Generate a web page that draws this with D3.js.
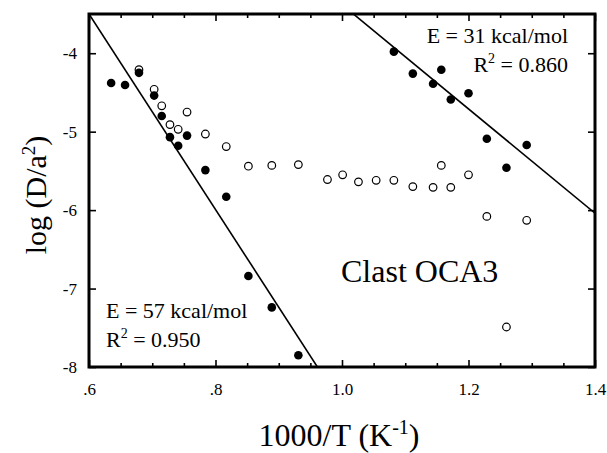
<!DOCTYPE html>
<html>
<head>
<meta charset="utf-8">
<script src="https://cdn.jsdelivr.net/npm/d3@7"></script>
<style>
  html, body { margin: 0; padding: 0; background: #fff; }
  svg { display: block; }
  text { font-family: "Liberation Serif", "Times New Roman", Times, serif; fill: #000; }
</style>
</head>
<body>
<svg id="chart" width="607" height="453"></svg>
<script>
// ---- data ----
const filledX = [0.635, 0.657, 0.679, 0.703, 0.715, 0.728, 0.741, 0.755, 0.784, 0.817, 0.852, 0.889, 0.931,
                 1.082, 1.112, 1.144, 1.157, 1.172, 1.200, 1.229, 1.260, 1.292];
const filledY = [-4.38, -4.405, -4.25, -4.54, -4.80, -5.07, -5.18, -5.05, -5.49, -5.83, -6.84, -7.24, -7.85,
                 -3.98, -4.26, -4.39, -4.21, -4.59, -4.51, -5.09, -5.46, -5.17];
const openX = [0.679, 0.703, 0.715, 0.728, 0.741, 0.755, 0.784, 0.817, 0.852, 0.889, 0.931, 0.977, 1.001,
               1.026, 1.054, 1.082, 1.112, 1.144, 1.157, 1.172, 1.200, 1.229, 1.260, 1.292];
const openY = [-4.21, -4.46, -4.67, -4.91, -4.97, -4.75, -5.03, -5.19, -5.44, -5.43, -5.42, -5.61, -5.55,
               -5.64, -5.62, -5.62, -5.70, -5.71, -5.43, -5.71, -5.55, -6.08, -7.49, -6.13];
// Arrhenius fits: log(D/a^2) = intercept + slope * (1000/T)
const fitSlopes = [-12.46, -6.65];
const fitIntercepts = [3.976, 3.27];
const fitFrom = [0.6, 1.0];
const fitTo = [0.97, 1.4];
const xTickValues = [0.6, 0.8, 1.0, 1.2, 1.4];
const xTickLabels = [".6", ".8", "1.0", "1.2", "1.4"];
const yTickValues = [-8, -7, -6, -5, -4];
const yTickLabels = ["-8", "-7", "-6", "-5", "-4"];

// ---- layout ----
const L = 89, R = 595, T = 14, B = 367;
const FONT = '"Liberation Serif", "Times New Roman", Times, serif';
const svg = d3.select("#chart");
const x = d3.scaleLinear().domain([0.6, 1.4]).range([L, R]);
const y = d3.scaleLinear().domain([-8, -3.5]).range([B, T]);

svg.append("defs").append("clipPath").attr("id", "plotclip")
  .append("rect").attr("x", L).attr("y", T).attr("width", R - L).attr("height", B - T);

const minorX = d3.range(0, 17).map(i => +(0.6 + i * 0.05).toFixed(2)).filter(v => !xTickValues.some(t => Math.abs(t - v) < 1e-6));

function styleAxis(g) {
  g.attr("font-family", FONT);
  g.select(".domain").remove();
  g.selectAll(".tick line").attr("stroke", "#000").attr("stroke-width", 1.6);
  g.selectAll("text").style("font-size", "17px").style("font-family", FONT);
}

// bottom major
svg.append("g").attr("transform", `translate(0,${B})`)
  .call(d3.axisBottom(x).tickValues(xTickValues).tickSize(-7).tickPadding(16)
    .tickFormat((d, i) => xTickLabels[i]))
  .call(styleAxis);
// bottom minor
svg.append("g").attr("transform", `translate(0,${B})`)
  .call(d3.axisBottom(x).tickValues(minorX).tickSize(-4).tickFormat(""))
  .call(styleAxis);
// top major/minor
svg.append("g").attr("transform", `translate(0,${T})`)
  .call(d3.axisTop(x).tickValues(xTickValues).tickSize(-7).tickFormat(""))
  .call(styleAxis);
svg.append("g").attr("transform", `translate(0,${T})`)
  .call(d3.axisTop(x).tickValues(minorX).tickSize(-4).tickFormat(""))
  .call(styleAxis);
// left
svg.append("g").attr("transform", `translate(${L},0)`)
  .call(d3.axisLeft(y).tickValues(yTickValues).tickSize(-7).tickPadding(12)
    .tickFormat((d, i) => yTickLabels[i]))
  .call(styleAxis);
// right
svg.append("g").attr("transform", `translate(${R},0)`)
  .call(d3.axisRight(y).tickValues(yTickValues).tickSize(-7).tickFormat(""))
  .call(styleAxis);

// frame
svg.append("rect").attr("x", L).attr("y", T).attr("width", R - L).attr("height", B - T)
  .attr("fill", "none").attr("stroke", "#000").attr("stroke-width", 3);

// fit lines
const plot = svg.append("g").attr("clip-path", "url(#plotclip)");
fitSlopes.forEach((s, i) => {
  const xs = [fitFrom[i], fitTo[i]];
  plot.append("line")
    .attr("x1", x(xs[0])).attr("y1", y(fitIntercepts[i] + s * xs[0]))
    .attr("x2", x(xs[1])).attr("y2", y(fitIntercepts[i] + s * xs[1]))
    .attr("stroke", "#000").attr("stroke-width", 1.6);
});

// open circles
svg.append("g").selectAll("circle").data(openX).join("circle")
  .attr("cx", d => x(d)).attr("cy", (d, i) => y(openY[i])).attr("r", 3.8)
  .attr("fill", "#fff").attr("stroke", "#000").attr("stroke-width", 1.2);
// filled circles
svg.append("g").selectAll("circle").data(filledX).join("circle")
  .attr("cx", d => x(d)).attr("cy", (d, i) => y(filledY[i])).attr("r", 4.3)
  .attr("fill", "#000");

// annotations
const ann = svg.append("g").style("font-size", "22px");
ann.append("text").attr("x", 568).attr("y", 43).attr("text-anchor", "end").text("E = 31 kcal/mol");
const r1 = ann.append("text").attr("x", 568).attr("y", 72).attr("text-anchor", "end");
r1.append("tspan").text("R");
r1.append("tspan").attr("dy", -9).style("font-size", "14px").text("2");
r1.append("tspan").attr("dy", 9).text(" = 0.860");

ann.append("text").attr("x", 106).attr("y", 318).text("E = 57 kcal/mol");
const r2 = ann.append("text").attr("x", 106).attr("y", 347);
r2.append("tspan").text("R");
r2.append("tspan").attr("dy", -9).style("font-size", "14px").text("2");
r2.append("tspan").attr("dy", 9).text(" = 0.950");

svg.append("text").attr("x", 341).attr("y", 282).style("font-size", "32px").text("Clast OCA3");

// axis titles
const xt = svg.append("text").attr("x", 339).attr("y", 446).attr("text-anchor", "middle")
  .style("font-size", "32px");
xt.append("tspan").text("1000/T (K");
xt.append("tspan").attr("dy", -12).style("font-size", "20px").text("-1");
xt.append("tspan").attr("dy", 12).text(")");

const yt = svg.append("text").attr("transform", `translate(46,195) rotate(-90)`)
  .attr("text-anchor", "middle").style("font-size", "30px");
yt.append("tspan").text("log (D/a");
yt.append("tspan").attr("dy", -11).style("font-size", "19px").text("2");
yt.append("tspan").attr("dy", 11).text(")");
</script>
</body>
</html>
